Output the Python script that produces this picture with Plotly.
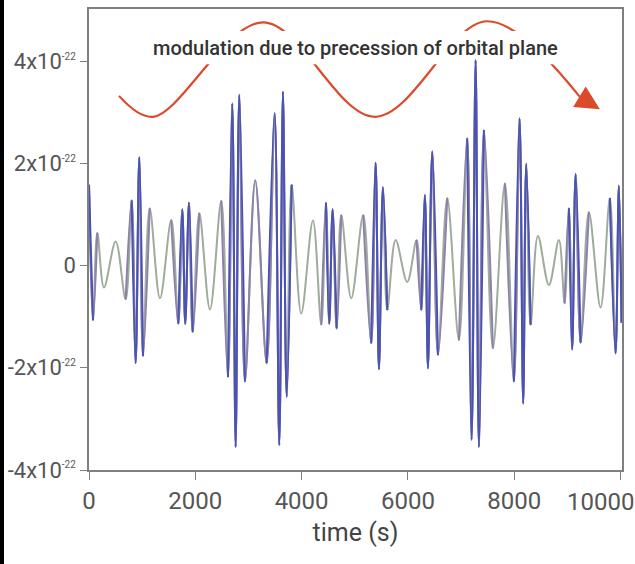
import plotly.graph_objects as go

# Gravitational-wave strain (units of 1e-22) sampled at its turning points
t_s = [0, 75, 156, 282, 502, 690, 803, 878, 946, 1016, 1142, 1336, 1548, 1680,
       1755, 1811, 1881, 1951, 2075, 2276, 2489, 2615, 2696, 2759, 2827, 2934,
       3128, 3343, 3493, 3580, 3649, 3719, 3813, 3993, 4213, 4370, 4458, 4520,
       4584, 4659, 4746, 4934, 5160, 5310, 5393, 5455, 5530, 5611, 5769, 5987,
       6164, 6251, 6320, 6377, 6458, 6565, 6740, 6960, 7116, 7199, 7274, 7336,
       7430, 7599, 7825, 7994, 8101, 8169, 8226, 8308, 8446, 8653, 8841, 8948,
       9029, 9091, 9155, 9249, 9405, 9625, 9800, 9907, 9969, 10020]
strain = [1.58, -1.07, 0.64, -0.43, 0.47, -0.66, 1.28, -1.91, 2.12, -1.77, 1.12,
          -0.64, 0.89, -1.14, 1.10, -1.14, 1.23, -1.30, 1.03, -0.86, 1.27, -2.18,
          3.17, -3.55, 3.34, -2.27, 1.67, -1.91, 2.98, -3.51, 3.40, -2.57, 1.58,
          -0.94, 0.88, -1.16, 1.23, -1.14, 1.10, -1.23, 0.99, -0.64, 0.99, -1.52,
          2.01, -2.03, 1.53, -0.87, 0.50, -0.32, 0.50, -0.87, 1.38, -2.01, 2.23,
          -1.75, 1.32, -1.46, 2.49, -3.41, 4.02, -3.55, 2.65, -1.62, 1.61, -2.27,
          2.88, -2.70, 1.99, -1.16, 0.58, -0.38, 0.50, -0.74, 1.12, -1.64, 1.79,
          -1.51, 1.05, -0.82, 1.32, -1.72, 1.56, -1.12]

# Precession-modulation guide curve (time, strain units) and its arrow tip
guide_t = [564, 1204, 3273, 5380, 7487, 9235]
guide_h = [3.32, 2.91, 4.76, 2.91, 4.78, 3.30]
arrow_tip = (9612, 3.06)

y_ticks = [-4, -2, 0, 2, 4]
x_ticks = [0, 2000, 4000, 6000, 8000, 10000]
label = "modulation due to precession of orbital plane"

FONT = "Roboto, 'DejaVu Sans', sans-serif"
GREY, PURPLE, BLUE = "#9fab9d", "#8c80ad", "#4a53b4"
RED = "#dc4a2c"
TICK_GREY = "#555555"

fig = go.Figure()

# guide curve, partly masked behind the label
fig.add_trace(go.Scatter(x=guide_t, y=guide_h, mode="lines",
                         line=dict(color=RED, width=2.2, shape="spline", smoothing=1.0),
                         hoverinfo="skip", showlegend=False))
fig.add_trace(go.Scatter(x=[1147, 8860, 8860, 1147, 1147], y=[3.94, 3.94, 4.59, 4.59, 3.94],
                         mode="none", fill="toself", fillcolor="white",
                         hoverinfo="skip", showlegend=False))

# steepness of each half-cycle decides its colour
steep = [abs(strain[i + 1] - strain[i]) / (t_s[i + 1] - t_s[i]) * 1000 for i in range(len(t_s) - 1)]
level = [2 if s >= 28 else (1 if s >= 15 else 0) for s in steep]

line_kw = dict(width=2, shape="spline", smoothing=1.0)
fig.add_trace(go.Scatter(x=t_s, y=strain, mode="lines", line=dict(color=GREY, **line_kw),
                         showlegend=False))
for lv, col in ((1, PURPLE), (2, BLUE)):
    i = 0
    n = len(level)
    while i < n:
        if level[i] >= lv:
            j = i
            while j + 1 < n and level[j + 1] >= lv:
                j += 1
            fig.add_trace(go.Scatter(x=t_s[i:j + 2], y=strain[i:j + 2], mode="lines",
                                     line=dict(color=col, **line_kw), showlegend=False))
            i = j + 1
        else:
            i += 1

fig.add_annotation(x=arrow_tip[0], y=arrow_tip[1], ax=guide_t[-1], ay=guide_h[-1],
                   xref="x", yref="y", axref="x", ayref="y", text="", showarrow=True,
                   arrowhead=2, arrowsize=2.0, arrowwidth=2.4, arrowcolor=RED)
fig.add_annotation(x=5022, y=4.26, xref="x", yref="y", text=label, showarrow=False,
                   font=dict(family=FONT, size=20, color="#333333", weight=500))

def ytext(v):
    if v == 0:
        return "0"
    return f"{v}x10<sup><span style='font-size:10px'>-22</span></sup>"

# the last x label is drawn separately, nudged left so it stays on the page
x_text = [str(v) for v in x_ticks]
last_label = x_text[-1]
x_text[-1] = ""

W, H = 635, 564
ml, mr, mt, mb = 89, 13, 9, 94
pw, ph = W - ml - mr, H - mt - mb

fig.add_annotation(x=x_ticks[-1], y=-32 / ph, xref="x", yref="paper", text=last_label,
                   showarrow=False, xanchor="center", yanchor="middle", xshift=-20,
                   font=dict(family=FONT, size=24, color=TICK_GREY))

axis_common = dict(showline=True, linecolor="#808080", linewidth=1.5, mirror=True,
                   ticks="outside", tickcolor="#808080", showgrid=False, zeroline=False,
                   automargin=False)
fig.update_xaxes(range=[0, 10028], tickvals=x_ticks, ticktext=x_text, ticklen=8,
                 tickfont=dict(family=FONT, size=24, color=TICK_GREY),
                 title=dict(text="time (s)", font=dict(family=FONT, size=25, color="#444444"),
                            standoff=10),
                 **axis_common)
fig.update_yaxes(range=[-4, 5.02], tickvals=y_ticks, ticktext=[ytext(v) for v in y_ticks],
                 ticklen=7, tickfont=dict(family=FONT, size=22, color=TICK_GREY),
                 **axis_common)

fig.add_shape(type="rect", xref="paper", yref="paper", x0=-ml / pw, x1=(4 - ml) / pw,
              y0=-mb / ph, y1=1 + mt / ph, fillcolor="black", line=dict(width=0), layer="above")

fig.update_layout(width=W, height=H, margin=dict(l=ml, r=mr, t=mt, b=mb),
                  paper_bgcolor="white", plot_bgcolor="white")

fig.write_html("out.html")
